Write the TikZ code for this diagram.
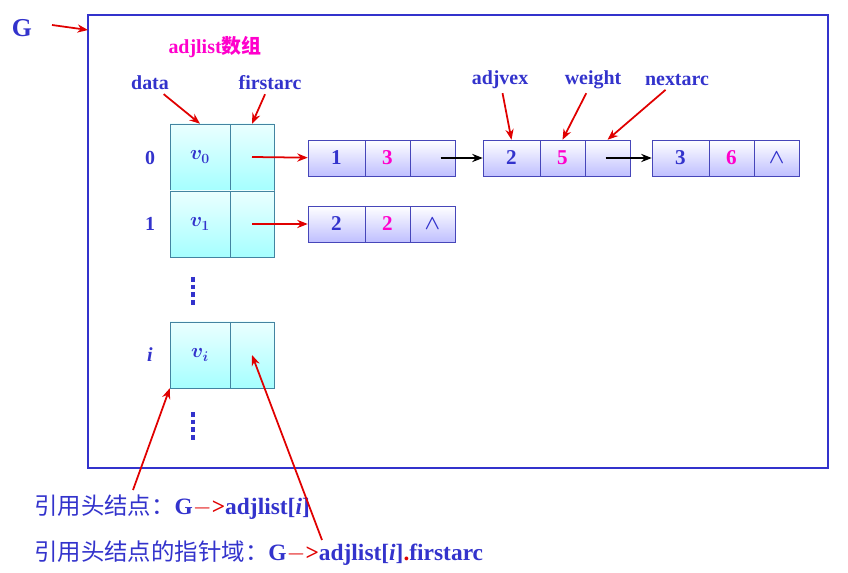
\documentclass[tikz,border=0pt]{standalone}
\usepackage{amsmath}
\usepackage{fontspec}
\newfontfamily\cjk{Noto Sans CJK SC}
\setmainfont{Liberation Serif}
\usetikzlibrary{arrows.meta}
\definecolor{ink}{HTML}{3333CC}
\definecolor{mag}{HTML}{FF00CC}
\definecolor{redarr}{HTML}{E00000}
\begin{document}
\begin{tikzpicture}[x=0.03cm, y=-0.03cm, >={Stealth[length=9pt,width=7pt]}, font=\fontsize{17}{20}\selectfont\bfseries]
    % Styles
    \tikzstyle{headcell} = [draw=cyan!60!black, top color=cyan!8, bottom color=cyan!35, minimum height=1.98cm, inner sep=0pt, text=ink, font=\fontsize{18}{20}\selectfont\bfseries]
    \tikzstyle{arccell} = [draw=blue!45!gray, top color=white, bottom color=blue!25, minimum height=1.08cm, inner sep=0pt, font=\fontsize{18}{20}\selectfont\bfseries]
    \tikzstyle{lbl} = [text=ink]
    \tikzstyle{redline} = [->, redarr, line width=1.5pt]
    \useasboundingbox (0,0) rectangle (848,573);

    % Frame
    \draw[ink, line width=2pt] (88,15) rectangle (828,468);
    \node[lbl, font=\fontsize{22}{24}\selectfont\bfseries] (G) at (22,28) {G};
    \coordinate (Gin) at (88,30);
    \draw[redline] (52,25) -- (Gin);

    \node[text=mag, font=\fontsize{17}{20}\selectfont\bfseries] (title) at (215,47) {adjlist{\cjk 数组}};
    \node[lbl] (data) at (150,83) {data};
    \node[lbl] (first) at (270,83) {firstarc};

    % Head table
    \node[headcell, minimum width=1.8cm] (d0) at (200,157) {$\boldsymbol{v_0}$};
    \node[headcell, minimum width=1.32cm] (f0) at (252,157) {};
    \node[headcell, minimum width=1.8cm] (d1) at (200,224) {$\boldsymbol{v_1}$};
    \node[headcell, minimum width=1.32cm] (f1) at (252,224) {};
    \node[headcell, minimum width=1.8cm] (di) at (200,355) {$\boldsymbol{v_i}$};
    \node[headcell, minimum width=1.32cm] (fi) at (252,355) {};
    \node[lbl] (r0) at (150,158) {0};
    \node[lbl] (r1) at (150,224) {1};
    \node[lbl] (ri) at (150,355) {\textit{i}};
    \draw[ink, line width=3pt, dash pattern=on 4pt off 2.5pt] (193,277) -- (193,305);
    \draw[ink, line width=3pt, dash pattern=on 4pt off 2.5pt] (193,412) -- (193,440);

    % Arc nodes
    \foreach \nm/\x/\y/\a/\w/\n in {a/308/158/1/3/, b/483/158/2/5/, c/652/158/3/6/$\boldsymbol\wedge$, d/308/224/2/2/$\boldsymbol\wedge$} {
        \node[arccell, minimum width=1.71cm, text=ink] (\nm1) at (\x+28.5,\y) {\a};
        \node[arccell, minimum width=1.35cm, text=mag] (\nm2) at (\x+79.5,\y) {\w};
        \node[arccell, minimum width=1.35cm, text=ink] (\nm3) at (\x+124.5,\y) {\n};
    }

    % Arrows
    \draw[redline] (f0.center) -- (a1);
    \draw[redline] (f1.center) -- (d1);
    \draw[->, line width=1.5pt] (a3.center)++(8,0) -- (b1);
    \draw[->, line width=1.5pt] (b3.center)++(-2,0) -- (c1);
    \draw[redline] (data) -- (d0.north);
    \draw[redline] (first) -- (f0.north);

    \node[lbl] (adjv) at (500,80) {adjvex};
    \node[lbl] (weight) at (593,80) {weight};
    \node[lbl] (next) at (677,80) {nextarc};
    \draw[redline] (adjv) -- (b1.north);
    \draw[redline] (weight) -- (b2.north);
    \draw[redline] (next) -- (b3.north);

    % Bottom text
    \node[anchor=west, text=ink, font=\fontsize{20}{24}\selectfont\bfseries] (t1) at (30,507) {{\cjk\mdseries 引用头结点：}G\textcolor{redarr}{$-$>}adjlist[\textit{i}]};
    \node[anchor=west, text=ink, font=\fontsize{20}{24}\selectfont\bfseries] (t2) at (30,553) {{\cjk\mdseries 引用头结点的指针域：}G\textcolor{redarr}{$-$>}adjlist[\textit{i}]\textcolor{redarr}{.}firstarc};
    \draw[redline] (133,490) -- (di.south west);
    \draw[redline] (322,540) -- (fi.center);
\end{tikzpicture}
\end{document}
